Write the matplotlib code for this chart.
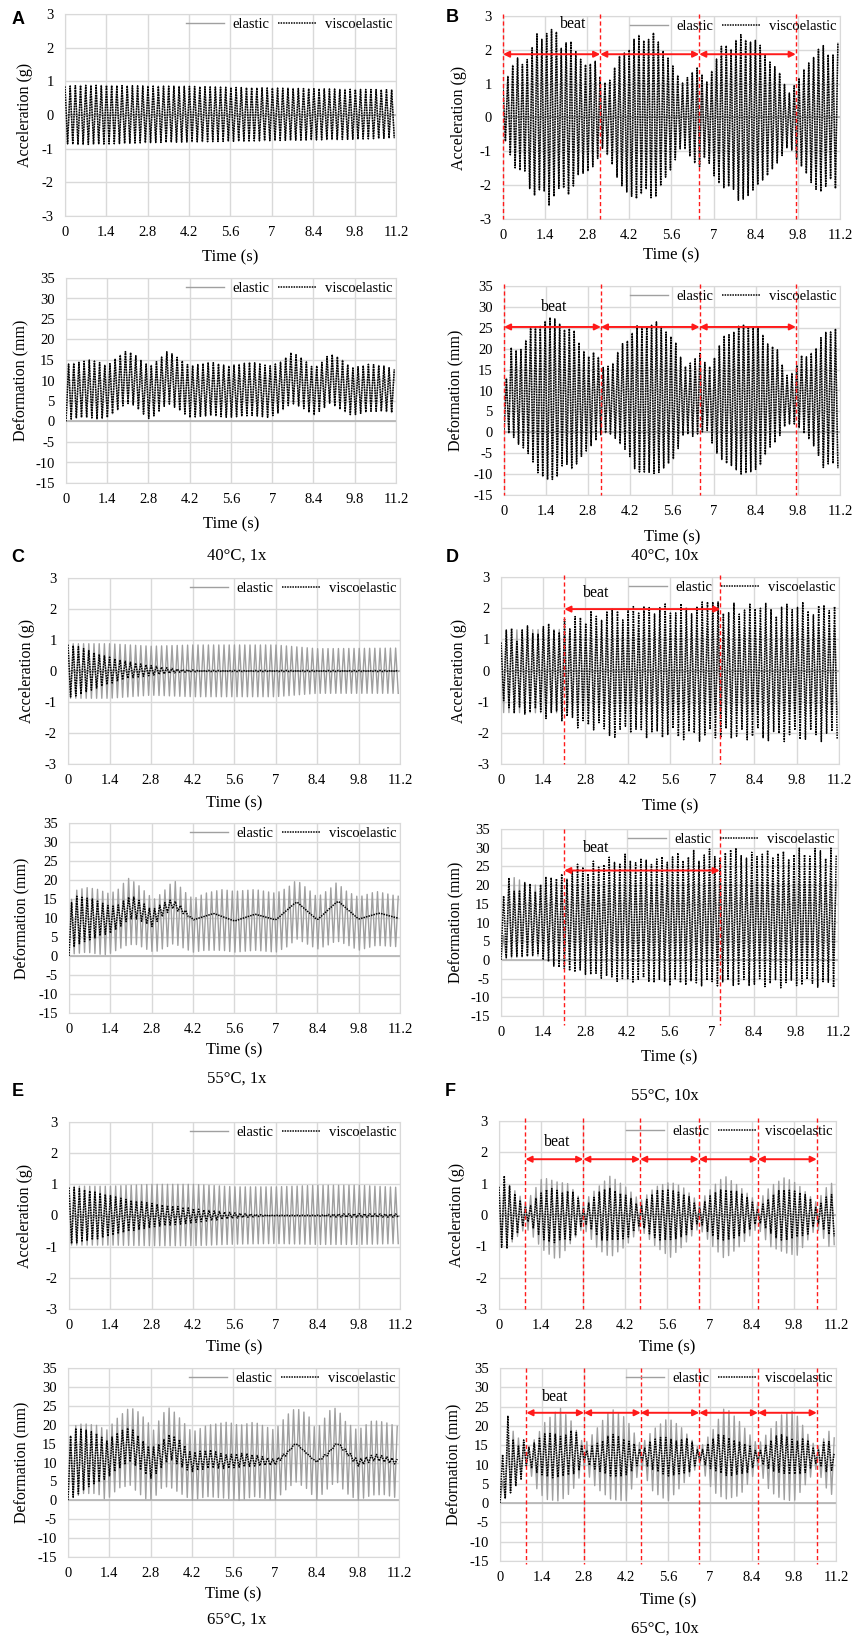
import matplotlib.pyplot as plt
import numpy as np

plt.rcParams['font.family'] = ['Liberation Serif', 'DejaVu Serif']
plt.rcParams['axes.unicode_minus'] = False

W, H = 854, 1642
TIME_TICKS = [0, 1.4, 2.8, 4.2, 5.6, 7, 8.4, 9.8, 11.2]
TIME_LABELS = ['0', '1.4', '2.8', '4.2', '5.6', '7', '8.4', '9.8', '11.2']
ACC_TICKS = [-3, -2, -1, 0, 1, 2, 3]
DEF_TICKS = [-15, -10, -5, 0, 5, 10, 15, 20, 25, 30, 35]

# envelopes (upper / lower peak values) at knot times (s)
# A: 40°C, 1x  (elastic and viscoelastic coincide)
A_ACC_T = [0, 0.5, 1.4, 2.8, 4.2, 5.6, 7.0, 8.4, 9.8, 11.2]
A_ACC_HI = [0.85, 0.88, 0.88, 0.86, 0.85, 0.82, 0.80, 0.78, 0.76, 0.75]
A_ACC_LO = [-0.85, -0.88, -0.86, -0.82, -0.80, -0.78, -0.76, -0.74, -0.72, -0.68]
A_DEF_T = [0.0, 0.1, 0.5, 0.8, 1.1, 1.4, 1.7, 2.05, 2.3, 2.6, 2.85, 3.15, 3.45, 3.8, 4.2,
           4.9, 5.5, 6.3, 6.9, 7.3, 7.65, 8.0, 8.4, 8.7, 8.95, 9.3, 9.7, 10.3, 10.8, 11.2]
A_DEF_HI = [14, 14, 14.5, 15, 14.5, 13.5, 15.5, 17.2, 16.5, 14.5, 13.5, 15, 17.2, 15.5, 13.5,
            14.5, 13.5, 14.5, 13.5, 14.5, 16.9, 15.5, 13, 14.5, 16.6, 15.5, 13, 14, 13.5, 12.5]
A_DEF_LO = [0.0, 0.5, 1, 1, 0.5, 1, 2.5, 4.5, 4, 2, 0.5, 2.5, 4.5, 3, 1,
            1.5, 1, 1.5, 1, 2.5, 4.5, 3.5, 1.5, 3, 4.5, 3, 1.5, 2.5, 2.5, 2]

# B: 40°C, 10x
B_ACC_T = [0, 0.2, 0.45, 0.7, 0.95, 1.1, 1.3, 1.55, 1.75, 1.95, 2.2, 2.5, 2.8, 3.05, 3.3,
           3.55, 3.85, 4.2, 4.45, 4.75, 5.0, 5.3, 5.6, 5.95, 6.25, 6.5, 6.75, 7.0, 7.3, 7.6,
           7.85, 8.15, 8.45, 8.8, 9.15, 9.5, 9.8, 10.05, 10.35, 10.6, 10.9, 11.2]
B_ACC_HI = [0.9, 1.3, 1.8, 1.5, 2.0, 2.5, 2.3, 2.6, 2.6, 2.0, 2.35, 1.8, 1.5, 1.7, 1.0,
            1.1, 1.8, 2.0, 2.5, 2.2, 2.5, 2.0, 1.6, 1.0, 1.3, 1.5, 1.0, 1.5, 2.2, 2.0,
            2.5, 2.2, 2.3, 1.7, 1.4, 0.7, 1.1, 1.5, 1.8, 2.2, 1.7, 2.35]
B_ACC_LO = [-0.5, -1.0, -1.6, -1.5, -2.3, -2.3, -2.0, -2.65, -2.2, -2.0, -2.3, -1.7, -1.6, -1.4, -0.9,
            -1.2, -1.9, -2.3, -2.4, -2.1, -2.5, -1.9, -1.5, -0.8, -1.2, -1.5, -1.1, -1.7, -2.1, -2.0,
            -2.5, -2.3, -2.0, -1.7, -1.3, -0.8, -1.3, -1.6, -2.1, -2.2, -1.8, -2.4]
B_DEF_T = [0, 0.1, 0.25, 0.5, 0.7, 0.9, 1.15, 1.5, 1.75, 2.0, 2.3, 2.55, 2.8, 3.05, 3.3,
           3.6, 3.9, 4.15, 4.4, 4.8, 5.1, 5.4, 5.7, 6.0, 6.3, 6.55, 6.8, 7.0, 7.3, 7.6,
           7.9, 8.2, 8.5, 8.8, 9.1, 9.4, 9.7, 9.85, 10.1, 10.4, 10.65, 10.9, 11.2]
B_DEF_HI = [0, 16, 20.5, 19, 21.5, 25.5, 25, 27.5, 27, 24.5, 25, 20.5, 18, 19.5, 15.5,
            16, 21, 22, 25.5, 25, 26.5, 24, 22, 15.5, 17, 19, 15, 17.5, 23, 23.5,
            26, 25, 25, 21, 20, 13.5, 14.5, 18.5, 18, 20, 24, 24, 25.5]
B_DEF_LO = [0, 0, -0.5, -3, -4, -6, -10, -11.5, -11, -7, -9, -6, -4, -2, 0,
            -0.5, -3, -5, -9.5, -9.5, -10, -8, -6, 0, -1, 0, 0.5, -4, -7, -8,
            -10, -9.5, -8.5, -4, -2, 2, 2, 1, -1, -4, -8.5, -7, -9]

# C: 55°C, 1x
C_ACC_EL_T = [0, 1.4, 2.8, 4.2, 7.0, 8.4, 11.2]
C_ACC_EL_HI = [0.88, 0.88, 0.80, 0.84, 0.84, 0.72, 0.74]
C_ACC_EL_LO = [-0.88, -0.88, -0.78, -0.83, -0.83, -0.72, -0.72]
C_ACC_VE_T = [0, 0.3, 1.1, 2.0, 2.9, 3.8, 4.5, 11.2]
C_ACC_VE_HI = [0.85, 0.8, 0.52, 0.3, 0.16, 0.05, 0.02, 0.02]
C_ACC_VE_LO = [-0.85, -0.8, -0.5, -0.24, -0.13, -0.04, -0.02, -0.02]
C_DEF_EL_T = [0, 0.1, 0.6, 1.0, 1.3, 1.6, 2.0, 2.3, 2.7, 2.9, 3.2, 3.55, 3.9, 4.2, 4.6,
              5.2, 5.6, 6.3, 7.0, 7.4, 7.7, 8.1, 8.4, 8.8, 9.05, 9.4, 9.8, 10.4, 11.2]
C_DEF_EL_HI = [0, 17, 18, 17.5, 16.5, 17, 20.5, 19, 16, 15, 17, 20, 17, 15, 16.5,
               17.5, 17, 17.5, 16.5, 18, 20, 17.5, 15.5, 17.5, 19.3, 17, 15.5, 17, 15.6]
C_DEF_EL_LO = [0, 0.5, 1, 0.5, 0.3, 1.5, 3, 3, 1.5, 1, 2, 3.3, 2, 1, 1.5,
               1.5, 1, 1.5, 1, 2.5, 4.5, 3, 1.8, 3, 4, 3, 1.5, 2.8, 2.4]
C_DEF_VE_T = [0, 0.1, 0.4, 0.8, 1.1, 1.4, 1.7, 2.0, 2.2, 2.5, 2.8, 3.1, 3.5, 3.9, 4.2,
              4.9, 5.6, 6.3, 7.0, 7.7, 8.4, 9.1, 9.8, 10.5, 11.2]
C_DEF_VE_HI = [0, 16, 15.5, 15, 14, 13, 13.5, 15.5, 15.5, 14, 12, 13.5, 15, 12.5, 9.5,
               11.2, 9.2, 11, 9.5, 14.3, 9.5, 14.5, 9.7, 11.3, 9.8]
C_DEF_VE_LO = [0, 2, 3.5, 4.5, 5.5, 6, 7.5, 9.5, 10, 9, 7.7, 10, 12.5, 11, 9.5,
               11.2, 9.2, 11, 9.5, 14.3, 9.5, 14.5, 9.7, 11.3, 9.8]

# D: 55°C, 10x
D_ACC_EL_T = [0, 11.2]
D_ACC_EL_HI = [1.3, 1.4]
D_ACC_EL_LO = [-1.35, -1.4]
D_ACC_VE_T = [0, 0.2, 0.4, 0.55, 0.7, 0.9, 1.1, 1.3, 1.5, 1.7, 1.9, 2.05, 2.3, 2.5, 2.8,
              3.0, 3.3, 3.5, 3.8, 4.05, 4.3, 4.6, 4.8, 5.1, 5.4, 5.7, 6.0, 6.3, 6.6, 6.9,
              7.2, 7.45, 7.7, 7.95, 8.2, 8.5, 8.8, 9.1, 9.4, 9.7, 10.0, 10.3, 10.6, 10.9, 11.2]
D_ACC_VE_HI = [0.9, 1.35, 1.35, 0.85, 1.3, 1.45, 1.1, 1.2, 1.6, 1.35, 1.1, 1.75, 1.3, 1.85, 1.5,
               1.95, 1.55, 1.9, 2.0, 1.6, 2.15, 1.8, 2.15, 1.8, 2.2, 1.7, 2.2, 1.8, 2.2, 2.2,
               2.2, 1.65, 2.2, 1.7, 2.2, 1.9, 2.2, 1.7, 2.2, 1.9, 2.2, 1.7, 2.2, 1.9, 2.2]
D_ACC_VE_LO = [-0.9, -1.05, -1.5, -1.0, -1.4, -1.4, -1.2, -1.3, -1.55, -1.3, -1.3, -1.7, -1.3, -1.9, -1.5,
               -2.0, -1.6, -2.05, -2.15, -1.7, -2.0, -1.8, -2.2, -1.85, -2.2, -1.85, -2.3, -1.85, -2.3, -1.85,
               -2.3, -1.85, -2.3, -1.85, -2.3, -1.85, -2.35, -1.85, -2.3, -1.85, -2.35, -1.85, -2.3, -1.85, -2.3]
D_DEF_EL_T = [0, 0.3, 1.0, 11.2]
D_DEF_EL_HI = [0, 22.5, 20, 21]
D_DEF_EL_LO = [0, 0.5, 1, 1]
D_DEF_VE_T = [0, 0.1, 0.3, 0.45, 0.65, 0.85, 1.0, 1.2, 1.4, 1.6, 1.8, 1.95, 2.2, 2.4, 2.6,
              2.9, 3.1, 3.3, 3.6, 3.9, 4.1, 4.4, 4.7, 5.0, 5.3, 5.6, 5.8, 6.1, 6.4, 6.6,
              6.9, 7.2, 7.5, 7.8, 8.1, 8.3, 8.6, 8.8, 9.1, 9.3, 9.6, 9.9, 10.2, 10.5, 10.8,
              11.0, 11.2]
D_DEF_VE_HI = [0, 19.5, 22.5, 18, 18.5, 21.5, 20, 17.5, 22, 22.5, 21, 23.5, 21.5, 24.5, 26,
               23, 27, 24, 27.5, 25, 28.5, 25.5, 27.5, 25.5, 28, 25.5, 29.5, 26, 29.5, 26,
               30, 26.5, 29, 30, 26.5, 29, 27, 30, 26.5, 30, 26.5, 30, 27, 30.5, 27,
               30.5, 27]
D_DEF_VE_LO = [0, 0.5, 1, 1, 1, 1, 1, 2, 0, -0.5, -2, -2, -2.5, -3.5, -2.5,
               -4.5, -3, -5, -4, -6, -4.5, -6, -4.5, -6.5, -5, -7, -5, -7, -5, -7.5,
               -5, -7, -5, -7.5, -5, -7.5, -5, -7.5, -5, -7.5, -5, -7.5, -5, -7.5, -5,
               -7.5, -7]

# E: 65°C, 1x
E_ACC_EL_T = [0, 1.4, 2.8, 4.2, 5.6, 7.0, 8.4, 9.8, 11.2]
E_ACC_EL_HI = [0.94, 0.94, 1.0, 1.0, 0.92, 0.92, 0.97, 0.97, 0.9]
E_ACC_EL_LO = [-0.95, -0.95, -0.97, -0.97, -0.92, -0.9, -0.93, -0.93, -0.9]
E_ACC_VE_T = [0, 0.15, 1.05, 1.95, 2.85, 3.75, 4.65, 5.55, 6.45, 7.0, 8.4, 9.0, 9.8, 10.5, 11.2]
E_ACC_VE_HI = [0.9, 0.9, 0.72, 0.51, 0.38, 0.28, 0.17, 0.09, 0.03, 0.01, 0.01, 0.05, 0.06, 0.05, 0.05]
E_ACC_VE_LO = [-0.9, -0.9, -0.73, -0.52, -0.36, -0.28, -0.18, -0.09, -0.03, -0.01, -0.01, -0.05, -0.06, -0.05, -0.06]
E_DEF_EL_T = [0, 0.1, 0.5, 1.0, 1.3, 1.7, 2.1, 2.4, 2.7, 2.9, 3.2, 3.45, 3.9, 4.2, 4.7,
              5.4, 5.8, 6.3, 7.0, 7.4, 7.7, 8.1, 8.4, 8.9, 9.1, 9.4, 9.8, 10.3, 10.7, 11.2]
E_DEF_EL_HI = [0, 19.4, 20.3, 19.8, 18.5, 22, 24.6, 23.3, 20.7, 18.5, 22.9, 24.6, 20.7, 18, 19.8,
               20.7, 19.8, 20.7, 18.5, 22.5, 24.4, 22.9, 18.5, 24.2, 24.4, 20.7, 18.5, 21.1, 20.7, 19.4]
E_DEF_EL_LO = [0, 0.5, 1.8, 1.8, 0, 3.2, 4, 1.8, 0, 0.5, 3.6, 3.5, 1.4, 0, 1,
               0.5, 0, 1, 0, 3, 4.9, 3, 0, 4, 4.9, 2, 0, 1.4, 1.5, 0.5]
E_DEF_VE_T = [0, 0.1, 0.3, 0.6, 1.0, 1.3, 1.7, 2.1, 2.4, 2.8, 3.1, 3.45, 3.75, 4.15, 4.8,
              5.3, 6.0, 6.8, 7.0, 7.4, 7.7, 8.4, 8.8, 9.1, 9.8, 10.4, 11.2]
E_DEF_VE_HI = [0, 19.4, 19, 18.6, 17.6, 15.6, 18, 19.4, 16.8, 13.7, 15, 17.6, 16.3, 12.6, 13.4,
               12, 12.5, 11.2, 10.8, 12.8, 15.3, 10.2, 12.8, 15.4, 10.8, 12.2, 10.8]
E_DEF_VE_LO = [0, 0.5, 1.4, 3.2, 4.9, 5.8, 8.4, 10.2, 8.4, 5.8, 8, 11, 9.3, 7.5, 8.6,
               8.4, 8.9, 9.3, 9.3, 11.9, 15, 10, 11.9, 15, 9, 10.6, 9.4]

# F: 65°C, 10x
F_ACC_EL_T = [0, 0.3, 0.9, 1.45, 1.95, 2.3, 2.8, 3.3, 3.7, 4.2, 4.7, 5.2, 5.7, 6.1, 6.65,
              7.1, 7.5, 8.0, 8.6, 9.0, 9.5, 9.9, 10.55, 11.0, 11.2]
F_ACC_EL_HI = [0.9, 1.0, 0.4, 1.2, 1.05, 1.0, 0.4, 0.9, 1.25, 0.9, 0.45, 0.9, 1.05, 0.9, 0.4,
               0.9, 1.25, 0.9, 0.4, 0.9, 1.2, 1.0, 0.4, 1.05, 0.9]
F_ACC_EL_LO = [-0.9, -1.0, -0.4, -1.1, -1.45, -1.0, -0.4, -1.1, -1.35, -1.0, -0.45, -1.0, -1.35, -1.0, -0.4,
               -1.0, -1.4, -1.0, -0.4, -1.0, -1.2, -1.3, -0.4, -1.05, -0.9]
F_ACC_VE_T = [0, 0.2, 0.4, 0.6, 0.8, 0.95, 1.2, 1.5, 1.8, 2.1, 2.4, 2.6, 2.8, 3.1, 3.4,
              3.7, 4.0, 4.3, 4.7, 5.0, 5.3, 5.6, 5.9, 6.3, 6.65, 7.0, 7.3, 7.6, 7.9, 8.3,
              8.6, 9.0, 9.3, 9.6, 9.9, 10.3, 10.55, 10.9, 11.2]
F_ACC_VE_HI = [0.9, 1.3, 0.8, 0.6, 0.35, 0.15, 0.5, 0.8, 0.85, 0.7, 0.8, 0.6, 0.2, 0.5, 0.8,
               0.85, 0.7, 0.6, 0.25, 0.6, 0.8, 0.8, 0.75, 0.6, 0.2, 0.6, 0.8, 0.8, 0.75, 0.55,
               0.2, 0.55, 0.8, 0.8, 0.75, 0.6, 0.2, 0.6, 0.7]
F_ACC_VE_LO = [-0.9, -1.2, -0.8, -0.6, -0.35, -0.2, -0.5, -0.8, -0.9, -0.75, -0.8, -0.6, -0.2, -0.5, -0.8,
               -0.8, -0.8, -0.7, -0.3, -0.6, -0.8, -0.8, -0.75, -0.6, -0.2, -0.6, -0.8, -0.8, -0.7, -0.5,
               -0.2, -0.55, -0.8, -0.8, -0.7, -0.6, -0.2, -0.6, -0.7]
F_DEF_EL_T = [0, 0.3, 0.9, 1.2, 1.5, 2.0, 2.4, 2.8, 3.2, 3.7, 4.2, 4.7, 5.1, 5.6, 6.0,
              6.65, 7.1, 7.5, 8.0, 8.6, 9.0, 9.4, 9.8, 10.55, 11.0, 11.2]
F_DEF_EL_HI = [0, 20, 14, 17, 21, 24.7, 21, 15, 19, 24.5, 22, 15, 19, 22, 20,
               14, 19, 25, 21, 15, 19, 23, 24, 14, 19, 16]
F_DEF_EL_LO = [0, 2, 10, 4, 1, 0.5, 3, 9, 4, 1, 0.5, 9, 3, 0.5, 4,
               10, 3, 1, 2, 9, 3, 1, 0.5, 9, 2, 3]
F_DEF_VE_T = [0, 0.15, 0.3, 0.45, 0.65, 0.8, 0.9, 1.2, 1.5, 1.8, 2.1, 2.4, 2.6, 2.8, 3.1,
              3.4, 3.7, 4.0, 4.3, 4.6, 4.7, 5.0, 5.3, 5.6, 5.9, 6.3, 6.65, 7.0, 7.3, 7.6,
              7.9, 8.3, 8.6, 9.0, 9.3, 9.6, 9.9, 10.2, 10.55, 10.9, 11.2]
F_DEF_VE_HI = [0, 21.5, 23, 16, 14.5, 16.5, 14, 16, 18, 18, 17, 19, 18, 13, 15,
               16, 18, 17, 16, 15, 13, 16, 17, 17, 16, 17, 13, 16, 18, 17,
               16, 15, 13, 16, 18, 17, 16, 17, 13, 17, 12]
F_DEF_VE_LO = [0, 1, 2, 4, 5, 8.5, 10, 8, 7, 6.5, 7, 7.5, 8, 11, 9,
               8, 7, 7, 7.5, 10, 11, 9, 8, 7, 7.5, 8, 11, 9, 8, 7,
               7.5, 8, 11, 8.5, 8, 7.5, 7.5, 8, 10.5, 8, 9]

# beat markers (s)
B_BEATS = [0, 3.23, 6.52, 9.73]
D_BEATS = [2.1, 7.27]
F_BEATS = [0.88, 2.8, 4.69, 6.64, 8.6, 10.56]

RED = '#ff1a1a'
GRID = '#d9d9d9'
GRAY = '#a0a0a0'


def zigzag(knots, hi, lo, freq, start_hi):
    # alternate between upper and lower envelope at each half period
    t = np.arange(0, 11.2 + 1e-9, 0.5 / freq)
    up = np.interp(t, knots, hi)
    dn = np.interp(t, knots, lo)
    k = np.arange(t.size) % 2
    y = np.where(k == (0 if start_hi else 1), up, dn)
    return t, y


fig = plt.figure(figsize=(W / 100, H / 100), dpi=100)


def make_axes(l, t, r, b):
    return fig.add_axes([l / W, 1 - b / H, (r - l) / W, (b - t) / H])


def draw(box, kind, el, ve, freq, xlab_y, ylab_x, beat=None):
    l, t, r, b = box
    ax = make_axes(l, t, r, b)
    acc = kind == 'acc'
    ax.plot(*zigzag(*el, freq, acc), color=GRAY, lw=1.0, zorder=2, label='elastic')
    ax.plot(*zigzag(*ve, freq, acc), color='black', lw=1.1, ls=(0, (1.0, 0.7)),
            zorder=3, label='viscoelastic')
    ax.set_xlim(0, 11.2)
    ax.set_xticks(TIME_TICKS)
    ax.set_xticklabels(TIME_LABELS)
    if acc:
        ax.set_ylim(-3, 3)
        ax.set_yticks(ACC_TICKS)
        ylab = 'Acceleration (g)'
    else:
        ax.set_ylim(-15, 35)
        ax.set_yticks(DEF_TICKS)
        ylab = 'Deformation (mm)'
    ax.axhline(0, color='#b3b3b3', lw=1.2, zorder=1)
    ax.grid(True, color=GRID, lw=1.0, zorder=0)
    ax.set_axisbelow(True)
    for s in ax.spines.values():
        s.set_color(GRID)
    ax.tick_params(length=0, labelsize=10.5)
    ax.tick_params(axis='x', pad=7)
    ax.tick_params(axis='y', pad=8)
    fig.text((l + r) / 2 / W, 1 - xlab_y / H, 'Time (s)', ha='center', va='center', fontsize=12)
    fig.text(ylab_x / W, 1 - (t + b) / 2 / H, ylab, rotation=90, ha='center', va='center',
             fontsize=11.5)
    if beat is not None:
        lines, y0, y1, ay, tx, ty = beat
        for x in lines:
            ax.plot([x, x], [y0, y1], color=RED, lw=1.0, ls=(0, (3, 2)), zorder=5, clip_on=False)
        for a, c in zip(lines[:-1], lines[1:]):
            ax.annotate('', xy=(c, ay), xytext=(a, ay),
                        arrowprops=dict(arrowstyle='<|-|>', color=RED, lw=1.4,
                                        mutation_scale=9, shrinkA=0, shrinkB=0), zorder=6)
        ax.text(tx, ty, 'beat', ha='center', va='center', fontsize=11.5, zorder=6)
    leg = ax.legend(loc='upper right', bbox_to_anchor=(1.0, 1.0), ncol=2, frameon=False,
                    fontsize=10.5, handlelength=2.6, handletextpad=0.6, columnspacing=0.6,
                    borderaxespad=0.1, borderpad=0.15)
    leg.set_zorder(7)
    return ax


draw((65, 14, 396, 216), 'acc', (A_ACC_T, A_ACC_HI, A_ACC_LO), (A_ACC_T, A_ACC_HI, A_ACC_LO), 5.7, 257, 25)
draw((66, 278, 396, 483), 'def', (A_DEF_T, A_DEF_HI, A_DEF_LO), (A_DEF_T, A_DEF_HI, A_DEF_LO), 5.7, 524, 21)
draw((503, 16, 840, 219), 'acc', (B_ACC_T, B_ACC_HI, B_ACC_LO), (B_ACC_T, B_ACC_HI, B_ACC_LO), 6.2, 255, 459,
     (B_BEATS, 3.07, -3, 1.87, 2.33, 2.77))
draw((504, 286, 840, 495), 'def', (B_DEF_T, B_DEF_HI, B_DEF_LO), (B_DEF_T, B_DEF_HI, B_DEF_LO), 6.2, 537, 456,
     (B_BEATS, 35.4, -15, 25.2, 1.66, 30))
draw((68, 578, 400, 764), 'acc', (C_ACC_EL_T, C_ACC_EL_HI, C_ACC_EL_LO), (C_ACC_VE_T, C_ACC_VE_HI, C_ACC_VE_LO),
     5.7, 803, 27)
draw((69, 823, 400, 1013), 'def', (C_DEF_EL_T, C_DEF_EL_HI, C_DEF_EL_LO), (C_DEF_VE_T, C_DEF_VE_HI, C_DEF_VE_LO),
     5.7, 1050, 22)
draw((501, 577, 839, 764), 'acc', (D_ACC_EL_T, D_ACC_EL_HI, D_ACC_EL_LO), (D_ACC_VE_T, D_ACC_VE_HI, D_ACC_VE_LO),
     5.7, 806, 459, (D_BEATS, 3.08, -3, 1.97, 3.14, 2.49))
draw((501, 829, 838, 1016), 'def', (D_DEF_EL_T, D_DEF_EL_HI, D_DEF_EL_LO), (D_DEF_VE_T, D_DEF_VE_HI, D_DEF_VE_LO),
     5.7, 1057, 456, (D_BEATS, 35, -17.4, 23.9, 3.15, 29.8))
draw((69, 1122, 400, 1309), 'acc', (E_ACC_EL_T, E_ACC_EL_HI, E_ACC_EL_LO), (E_ACC_VE_T, E_ACC_VE_HI, E_ACC_VE_LO),
     5.7, 1347, 25)
draw((68, 1368, 399, 1557), 'def', (E_DEF_EL_T, E_DEF_EL_HI, E_DEF_EL_LO), (E_DEF_VE_T, E_DEF_VE_HI, E_DEF_VE_LO),
     5.7, 1594, 22)
draw((499, 1121, 836, 1309), 'acc', (F_ACC_EL_T, F_ACC_EL_HI, F_ACC_EL_LO), (F_ACC_VE_T, F_ACC_VE_HI, F_ACC_VE_LO),
     5.7, 1347, 457, (F_BEATS, 3.09, -3, 1.78, 1.93, 2.32))
draw((500, 1368, 836, 1561), 'def', (F_DEF_EL_T, F_DEF_EL_HI, F_DEF_EL_LO), (F_DEF_VE_T, F_DEF_VE_HI, F_DEF_VE_LO),
     5.7, 1600, 454, (F_BEATS, 35, -15.7, 23.4, 1.83, 27.6))

for letter, x, y in [('A', 18, 19), ('B', 452, 18), ('C', 18, 558), ('D', 452, 558),
                     ('E', 18, 1092), ('F', 450, 1092)]:
    fig.text(x / W, 1 - y / H, letter, ha='center', va='center', fontsize=13,
             fontweight='bold', family=['Liberation Sans', 'DejaVu Sans'])

for cap, x, y in [('40°C, 1x', 237, 556), ('40°C, 10x', 665, 556), ('55°C, 1x', 237, 1079),
                  ('55°C, 10x', 665, 1096), ('65°C, 1x', 237, 1620), ('65°C, 10x', 665, 1629)]:
    fig.text(x / W, 1 - y / H, cap, ha='center', va='center', fontsize=12)

fig.savefig('out.png', dpi=100)
